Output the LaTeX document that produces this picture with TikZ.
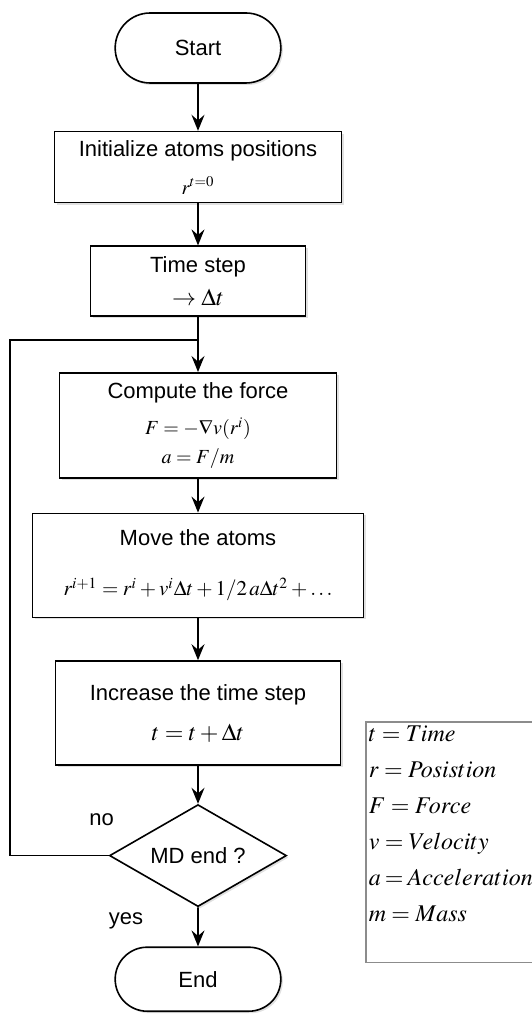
\documentclass[tikz,border=0pt]{standalone}
\usepackage{mathptmx}
\usepackage[no-math]{fontspec}
\setmainfont{Liberation Sans}
\usetikzlibrary{arrows.meta,positioning,shapes.geometric,shapes.misc,shadows}
\tikzset{
  term/.style={draw=black,rounded rectangle,align=center,minimum height=35pt,minimum width=89.5pt,fill=white,line width=0.8pt,drop shadow={shadow xshift=1pt,shadow yshift=-1pt,opacity=0.12,fill=black}},
  proc/.style={draw=black,align=center,inner sep=2pt,fill=white,line width=0.8pt,drop shadow={shadow xshift=1pt,shadow yshift=-1pt,opacity=0.12,fill=black}},
  decide/.style={draw=black,diamond,aspect=1.735,inner sep=0pt,minimum width=88.5pt,minimum height=51pt,fill=white,line width=0.8pt,drop shadow={shadow xshift=1pt,shadow yshift=-1pt,opacity=0.12,fill=black}},
  legend/.style={draw=black!45,line width=0.8pt,align=left,text width=82pt,inner xsep=1.5pt,inner ysep=2pt,text depth=108.5pt,font=\fontsize{12}{18}\selectfont},
  lbl/.style={inner sep=1pt},
  arrow/.style={-{Stealth[length=8pt,width=6.5pt,inset=2.8pt]},line width=0.8pt,draw=black},
  link/.style={line width=0.8pt,draw=black}
}
\begin{document}
\begin{tikzpicture}[font=\fontsize{11}{13}\selectfont]
  \useasboundingbox (0,0) rectangle (265.5pt,-507.5pt);
  % main chain
  \node[term] (start) at (99pt,-24pt) {Start};
  \node[proc,minimum width=143.5pt,minimum height=35.5pt,below=23.5pt of start] (init) {Initialize atoms positions\\[6pt]{\fontsize{10}{12}\selectfont$r^{t=0}$}};
  \node[proc,minimum width=107.5pt,minimum height=35pt,below=21pt of init] (ts) {Time step\\[3.5pt]{\fontsize{12}{14}\selectfont$\rightarrow\Delta t$}};
  \node[proc,minimum width=138.5pt,minimum height=52.5pt,below=27.5pt of ts] (force) {Compute the force\\[5pt]{\fontsize{10}{12}\selectfont$F = -\nabla v(r^i)$}\\[1.5pt]{\fontsize{10}{12}\selectfont$a = F/m$}};
  \node[proc,minimum width=165.5pt,minimum height=52pt,below=17pt of force] (move) {Move the atoms\\[12pt]{\fontsize{10.5}{13}\selectfont$r^{i+1} = r^i + v^i\Delta t + 1/2\,a\Delta t^2 + \ldots$}};
  \node[proc,minimum width=142.5pt,minimum height=52pt,below=21pt of move] (incr) {Increase the time step\\[7pt]{\fontsize{12}{14}\selectfont$t = t + \Delta t$}};
  \node[decide,below=19pt of incr] (dec) {MD end ?};
  \node[term,minimum height=32pt,below=19.5pt of dec] (done) {End};
  \node[lbl] (no) at ([shift={(-3.5pt,18pt)}]dec.west) {no};
  \node[lbl] (yes) at ([shift={(-36pt,-6.5pt)}]dec.south) {yes};
  % symbols
  \node[legend,anchor=north west] (key) at (182.5pt,-360.5pt) {$t = Time$\\$r = Posistion$\\$F = Force$\\$v = Velocity$\\$a = Acceleration$\\$m = Mass$};
  % arrows
  \coordinate (loop) at ([yshift=-11.5pt]ts.south);
  \draw[arrow] (start) -- (init);
  \draw[arrow] (init) -- (ts);
  \draw[arrow] (ts) -- (force);
  \draw[arrow] (force) -- (move);
  \draw[arrow] (move) -- (incr);
  \draw[arrow] (incr) -- (dec);
  \draw[arrow] (dec) -- (done);
  \draw[link] (dec.west) -- ++(-49.5pt,0) |- (loop);
\end{tikzpicture}
\end{document}
